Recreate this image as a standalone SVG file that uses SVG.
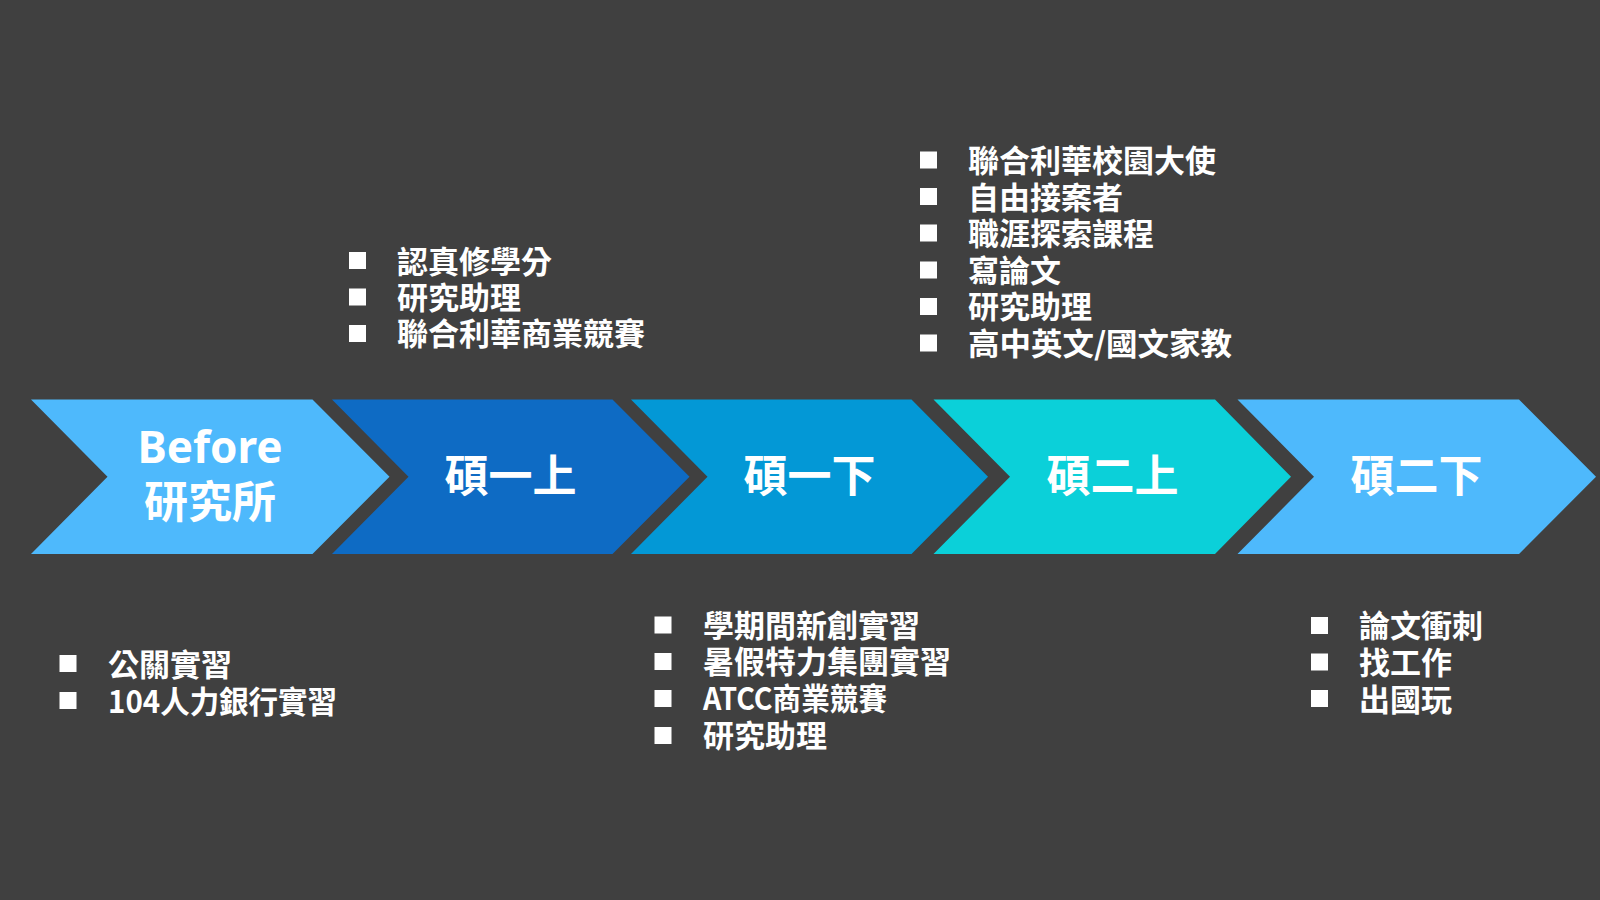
<svg xmlns="http://www.w3.org/2000/svg" width="1600" height="900" viewBox="0 0 1600 900">
  <style>
    .bg { fill: #404040; }
    .c1 { fill: #4EB9FC; }
    .c2 { fill: #0E6BC4; }
    .c3 { fill: #0398D6; }
    .c4 { fill: #0BD0D9; }
    .head { font-family: "Noto Sans", "Noto Sans CJK TC", sans-serif; font-weight: 700; font-size: 44px; fill: #FFFFFF; text-anchor: middle; }
    .item { font-family: "Noto Sans CJK TC", "Noto Sans", sans-serif; font-weight: 700; font-size: 31px; fill: #FFFFFF; }
    .sq { fill: #FFFFFF; }
  </style>
  <rect class="bg" x="0" y="0" width="1600" height="900"/>

  <g id="node-before">
    <polygon class="c1" points="31,399.5 312.5,399.5 389.5,476.75 312.5,554 31,554 107.5,476.75"/>
    <text class="head" x="210" y="463">Before</text>
    <text class="head" x="210" y="518">研究所</text>
  </g>
  <g id="node-m1a">
    <polygon class="c2" points="332,399.5 612.5,399.5 689.5,476.75 612.5,554 332,554 408.5,476.75"/>
    <text class="head" x="510.5" y="492">碩一上</text>
  </g>
  <g id="node-m1b">
    <polygon class="c3" points="631,399.5 911.5,399.5 988,476.75 911.5,554 631,554 707.5,476.75"/>
    <text class="head" x="809.5" y="492">碩一下</text>
  </g>
  <g id="node-m2a">
    <polygon class="c4" points="933.5,399.5 1215,399.5 1291,476.75 1215,554 933.5,554 1010,476.75"/>
    <text class="head" x="1112.5" y="492">碩二上</text>
  </g>
  <g id="node-m2b">
    <polygon class="c1" points="1237.5,399.5 1519,399.5 1596,476.75 1519,554 1237.5,554 1314,476.75"/>
    <text class="head" x="1416.5" y="492">碩二下</text>
  </g>

  <g id="connectors"></g>

  <g id="list-before">
    <rect class="sq" x="59.5" y="655" width="17" height="17"/>
    <rect class="sq" x="59.5" y="692" width="17" height="17"/>
    <text class="item" x="108" y="675.5">公關實習</text>
    <text class="item" x="108" y="712.5" textLength="229" lengthAdjust="spacingAndGlyphs">104人力銀行實習</text>
  </g>

  <g id="list-m1a">
    <rect class="sq" x="349" y="252" width="17" height="17"/>
    <rect class="sq" x="349" y="288.5" width="17" height="17"/>
    <rect class="sq" x="349" y="325" width="17" height="17"/>
    <text class="item" x="397" y="272.5">認真修學分</text>
    <text class="item" x="397" y="308.5">研究助理</text>
    <text class="item" x="397" y="345">聯合利華商業競賽</text>
  </g>

  <g id="list-m1b">
    <rect class="sq" x="654.5" y="616.5" width="17" height="17"/>
    <rect class="sq" x="654.5" y="653" width="17" height="17"/>
    <rect class="sq" x="654.5" y="690" width="17" height="17"/>
    <rect class="sq" x="654.5" y="727" width="17" height="17"/>
    <text class="item" x="703" y="636.5">學期間新創實習</text>
    <text class="item" x="703" y="673">暑假特力集團實習</text>
    <text class="item" x="703" y="710" textLength="184" lengthAdjust="spacingAndGlyphs">ATCC商業競賽</text>
    <text class="item" x="703" y="747">研究助理</text>
  </g>

  <g id="list-m2a">
    <rect class="sq" x="920" y="151.5" width="17" height="17"/>
    <rect class="sq" x="920" y="188" width="17" height="17"/>
    <rect class="sq" x="920" y="224.5" width="17" height="17"/>
    <rect class="sq" x="920" y="261.5" width="17" height="17"/>
    <rect class="sq" x="920" y="298" width="17" height="17"/>
    <rect class="sq" x="920" y="334.5" width="17" height="17"/>
    <text class="item" x="968" y="172">聯合利華校園大使</text>
    <text class="item" x="968" y="208.5">自由接案者</text>
    <text class="item" x="968" y="245">職涯探索課程</text>
    <text class="item" x="968" y="281.5">寫論文</text>
    <text class="item" x="968" y="318">研究助理</text>
    <text class="item" x="968" y="354.5" textLength="264" lengthAdjust="spacingAndGlyphs">高中英文/國文家教</text>
  </g>

  <g id="list-m2b">
    <rect class="sq" x="1311" y="617" width="17" height="17"/>
    <rect class="sq" x="1311" y="653.5" width="17" height="17"/>
    <rect class="sq" x="1311" y="690" width="17" height="17"/>
    <text class="item" x="1359" y="637">論文衝刺</text>
    <text class="item" x="1359" y="673.5">找工作</text>
    <text class="item" x="1359" y="710.5">出國玩</text>
  </g>
</svg>
